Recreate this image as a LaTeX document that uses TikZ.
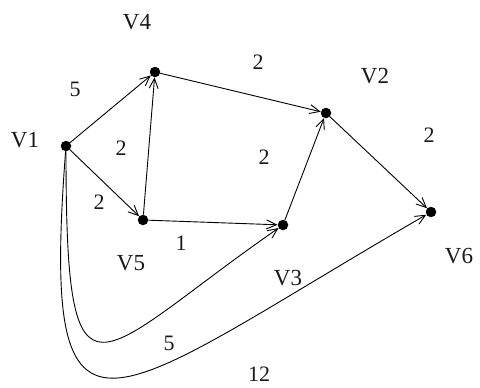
\documentclass[tikz,border=0pt]{standalone}
\usepackage{fontspec}
\setmainfont{Liberation Serif}
\usetikzlibrary{arrows.meta}

\tikzset{
  vert/.style={circle, fill=black, inner sep=0pt, minimum size=10.5pt},
  vlab/.style={font=\fontsize{23}{26}\selectfont, text=black!90},
  wt/.style={font=\fontsize{22}{25}\selectfont, text=black!90},
  arc/.style={line width=0.9pt, -{Straight Barb[length=10pt, width=9pt]}}
}

\begin{document}
\begin{tikzpicture}[x=1pt, y=-1pt]
  \useasboundingbox (0,0) rectangle (480,388);
  % vertices
  \foreach \n/\x/\y in {v1/66/146, v4/155/72, v2/326/113, v5/143/220, v3/283/225, v6/431/212}
    \node[vert] (\n) at (\x,\y) {};
  % vertex names
  \node[vlab] (n1) at (25,140) {V1};
  \node[vlab] (n4) at (137,22) {V4};
  \node[vlab] (n2) at (375,76) {V2};
  \node[vlab] (n5) at (131,263) {V5};
  \node[vlab] (n3) at (288,278) {V3};
  \node[vlab] (n6) at (459,256) {V6};
  % straight arcs
  \foreach \a/\b in {v1/v4, v1/v5, v5/v4, v4/v2, v5/v3, v3/v2, v2/v6}
    \draw[arc] (\a) -- (\b);
  % long arcs from V1
  \draw[arc] (v1) .. controls (66,430) and (94,356) .. (v3);
  \draw[arc] (v1) .. controls (40,486) and (106,400) .. (v6);
  % weights
  \foreach \w/\x/\y [count=\i] in {5/75/89, 2/121/148, 2/258/62, 2/264/157,
      2/429/135, 2/99/202, 1/181/243, 5/169/343, 12/259/374}
    \node[wt] (w\i) at (\x,\y) {\w};
\end{tikzpicture}
\end{document}
